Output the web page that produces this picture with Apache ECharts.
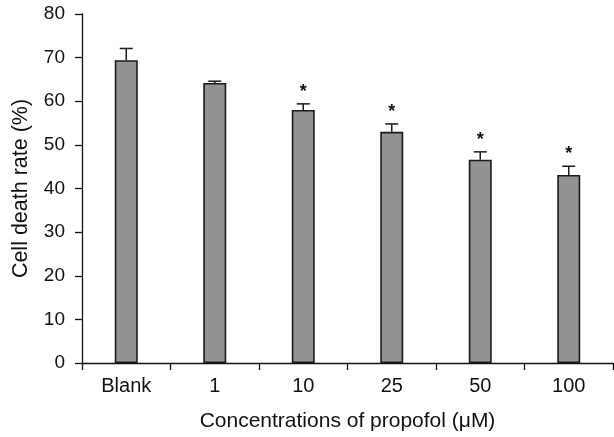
<!DOCTYPE html>
<html>
<head>
<meta charset="utf-8">
<script src="https://cdn.jsdelivr.net/npm/echarts@6/dist/echarts.min.js"></script>
<style>html,body{margin:0;padding:0;background:#fff;}#c{width:614px;height:437px;}</style>
</head>
<body>
<div id="c"></div>
<script>
const categories = ['Blank', '1', '10', '25', '50', '100'];
const meanValues = [69.4, 64.2, 58.0, 53.0, 46.6, 43.1];
const errorValues = [2.7, 0.4, 1.4, 1.8, 1.8, 2.0];
const significant = [false, false, true, true, true, true];
const yTicks = [0, 10, 20, 30, 40, 50, 60, 70, 80];

const chart = echarts.init(document.getElementById('c'));
const font = 'Liberation Sans, Arial, sans-serif';
const errData = categories.map((c, i) => [i, meanValues[i], meanValues[i] + errorValues[i], significant[i] ? 1 : 0]);

chart.setOption({
  animation: false,
  grid: { left: 82, right: 1, top: 14, bottom: 71, containLabel: false },
  xAxis: {
    type: 'category',
    data: categories,
    name: 'Concentrations of propofol (\u03bcM)',
    nameLocation: 'middle',
    nameGap: 48,
    nameTextStyle: { fontFamily: font, fontSize: 21, color: '#111' },
    axisLine: { lineStyle: { color: '#111', width: 1.3 } },
    axisTick: { show: true, alignWithLabel: false, length: 7, lineStyle: { color: '#111', width: 1.3 } },
    axisLabel: { fontFamily: font, fontSize: 20, color: '#111', margin: 13 },
    splitLine: { show: false }
  },
  yAxis: {
    type: 'value',
    min: 0, max: 80, interval: 10,
    name: 'Cell death rate (%)',
    nameLocation: 'middle',
    nameGap: 50,
    nameTextStyle: { fontFamily: font, fontSize: 21.5, color: '#111' },
    axisLine: { show: true, lineStyle: { color: '#111', width: 1.3 } },
    axisTick: { show: true, length: 7, lineStyle: { color: '#111', width: 1.3 } },
    axisLabel: { fontFamily: font, fontSize: 19, color: '#111', margin: 17,
      formatter: v => yTicks.includes(v) ? String(v) : '' },
    splitLine: { show: false }
  },
  series: [
    {
      type: 'bar',
      data: meanValues,
      barWidth: 23,
      itemStyle: { color: '#939393', borderColor: '#1a1a1a', borderWidth: 1.6 }
    },
    {
      type: 'custom',
      data: errData,
      z: 3,
      renderItem: function (params, api) {
        const i = api.value(0);
        const top = api.coord([i, api.value(2)]);
        const base = api.coord([i, api.value(1)]);
        const half = 6.5;
        const children = [
          { type: 'line', shape: { x1: top[0], y1: base[1], x2: top[0], y2: top[1] }, style: { stroke: '#1a1a1a', lineWidth: 1.5 } },
          { type: 'line', shape: { x1: top[0] - half, y1: top[1], x2: top[0] + half, y2: top[1] }, style: { stroke: '#1a1a1a', lineWidth: 1.5 } }
        ];
        if (api.value(3) === 1) {
          children.push({ type: 'text', style: { text: '*', x: top[0], y: top[1] - 3, textAlign: 'center', textVerticalAlign: 'bottom', fontSize: 18, fontWeight: 'bold', fontFamily: font, fill: '#111' } });
        }
        return { type: 'group', children: children };
      }
    }
  ]
});
</script>
</body>
</html>
